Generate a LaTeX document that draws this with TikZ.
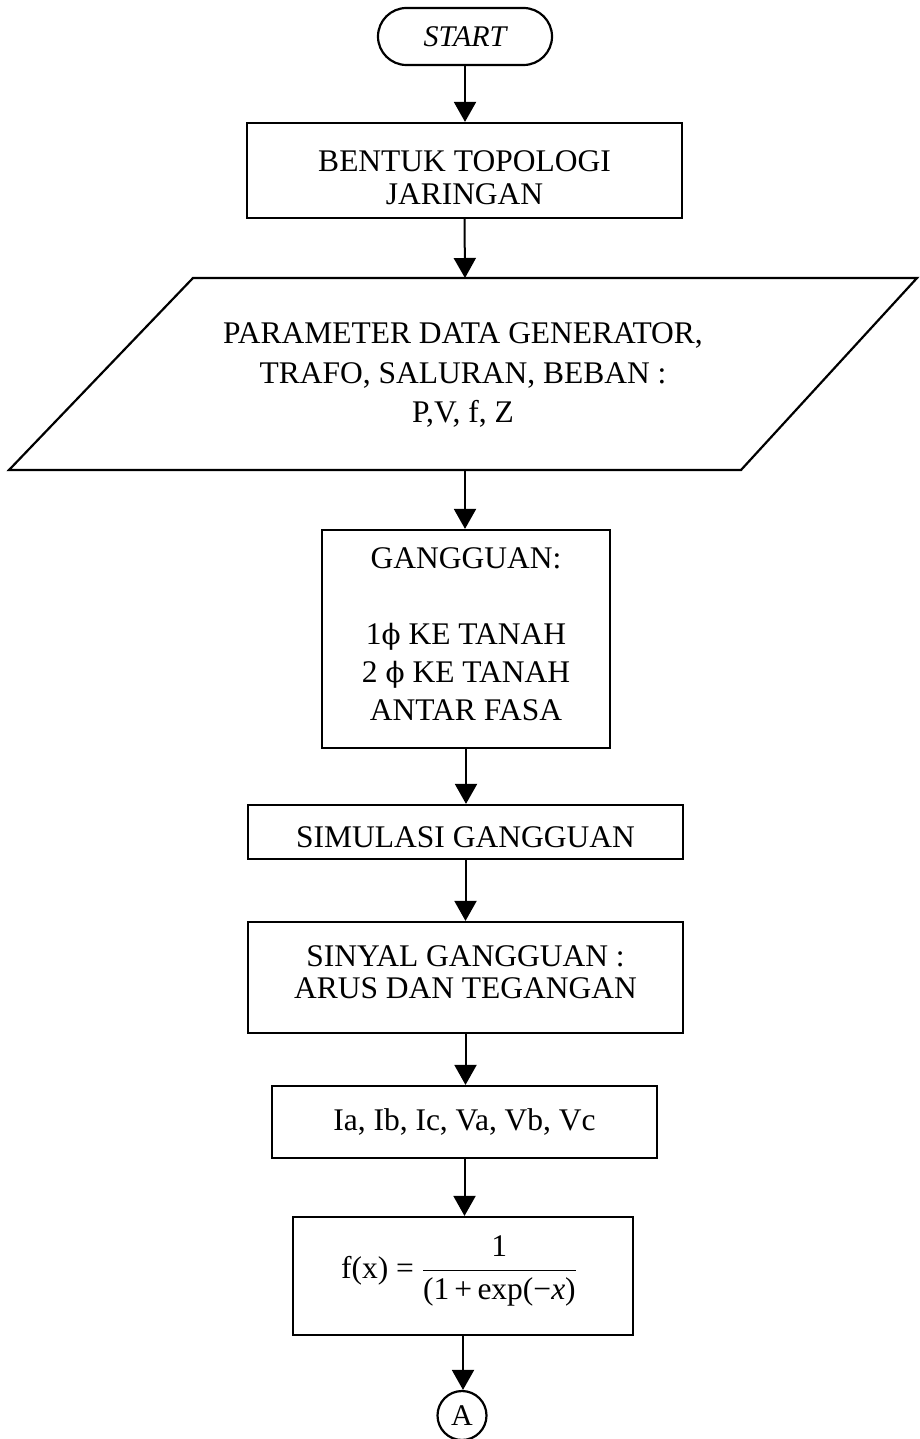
\RequirePackage{fix-cm}
\documentclass[tikz,border=0pt]{standalone}
\usepackage{amsmath}
\usepackage{fontspec}
\setmainfont{Liberation Serif}
\newfontfamily\phifont{DejaVu Serif}
\usetikzlibrary{arrows.meta}

\tikzset{
  frame/.style={draw, line width=2.2pt, inner sep=0pt},
  lbl/.style={align=center, inner sep=0pt, font=\fontsize{31.5}{#1}\selectfont},
  lbl/.default=35,
  flow/.style={line width=2pt, -{Triangle[width=22pt,length=20pt]}},
}
\newcommand{\fasa}{{\phifont\fontsize{28}{30}\selectfont ϕ}}

\begin{document}
\begin{tikzpicture}[x=1pt, y=-1pt]
  \useasboundingbox (0,0) rectangle (919,1439);
  \fill[white] (0,0) rectangle (919,1439);

  % terminator
  \node[frame, rounded corners=28.5pt, minimum width=174pt, minimum height=57pt,
        font=\fontsize{30}{36}\selectfont\itshape] (start) at (465,36.5) {START};

  % process: network topology
  \node[frame, minimum width=435pt, minimum height=95pt] (box1) at (464.5,170.5) {};
  \node[lbl=33] (box1t) at (464.5,178) {BENTUK TOPOLOGI\\JARINGAN};

  % input/output parallelogram
  \draw[line width=2.2pt, line join=miter] (193,278) -- (917,278) -- (741,470) -- (9,470) -- cycle;
  \coordinate (pin) at (465,278);
  \coordinate (pout) at (465,470);
  \node[lbl=39.5] (params) at (463,375)
    {PARAMETER DATA GENERATOR,\\TRAFO, SALURAN, BEBAN :\\P,V, f, Z};

  % fault types
  \node[frame, minimum width=288pt, minimum height=218pt] (gang) at (466,639) {};
  \node[lbl=38] (gangt) at (466,634)
    {GANGGUAN:\\[38pt]1\fasa{} KE TANAH\\2 \fasa{} KE TANAH\\ANTAR FASA};

  % fault simulation
  \node[frame, minimum width=435pt, minimum height=54pt] (simul) at (465.5,832) {};
  \node[lbl] (simult) at (465.5,837) {SIMULASI GANGGUAN};

  % fault signals
  \node[frame, minimum width=435pt, minimum height=111pt] (sinyal) at (465.5,977.5) {};
  \node[lbl=32] (sinyalt) at (465.5,972.5) {SINYAL GANGGUAN :\\ARUS DAN TEGANGAN};

  % measured quantities
  \node[frame, minimum width=385pt, minimum height=72pt, font=\fontsize{31.5}{35}\selectfont]
    (ia) at (464.5,1122) {Ia, Ib, Ic, Va, Vb, Vc};

  % sigmoid activation
  \node[frame, minimum width=340pt, minimum height=118pt] (fx) at (463,1276) {};
  \node[inner sep=0pt, anchor=base, font=\fontsize{31.5}{35}\selectfont] (fxt) at (459,1278)
    {f(x) = $\dfrac{\text{1}}{\text{(1\,+\,exp(−\textit{x})}}$};

  % off-page connector
  \node[frame, circle, minimum size=49pt, font=\fontsize{30}{34}\selectfont] (conA) at (462,1415.5) {A};

  % flow lines
  \draw[flow] (start.south) -- (start.south |- box1.north);
  \draw[flow] (box1.south) -- (pin);
  \draw[flow] (pout) -- (pout |- gang.north);
  \draw[flow] (gang.south) -- (gang.south |- simul.north);
  \draw[flow] (simul.south) -- (simul.south |- sinyal.north);
  \draw[flow] (sinyal.south) -- (sinyal.south |- ia.north);
  \draw[flow] (ia.south) -- (ia.south |- fx.north);
  \draw[flow] (fx.south) -- (fx.south |- conA.north);
\end{tikzpicture}
\end{document}
